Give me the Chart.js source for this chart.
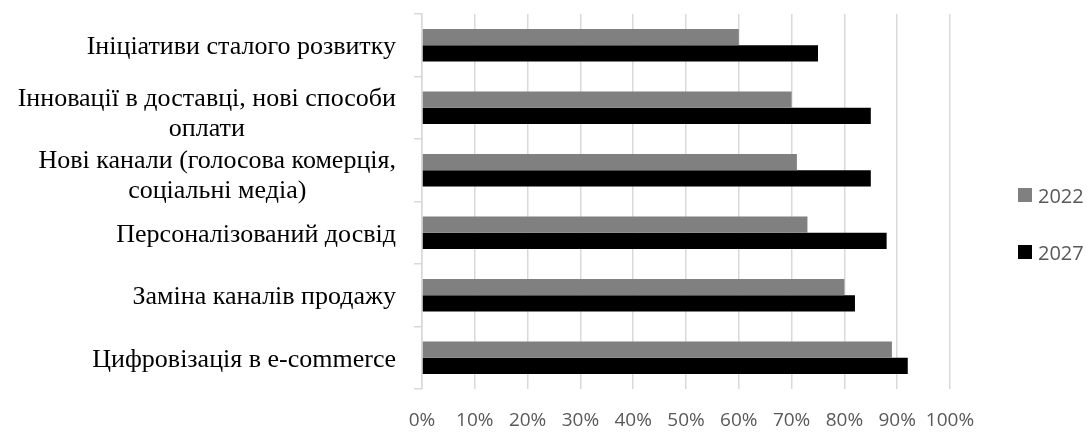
<!DOCTYPE html>
<html lang="uk">
<head>
<meta charset="utf-8">
<script src="https://cdn.jsdelivr.net/npm/chart.js@4"></script>
<style>
    body { margin: 0; background: #fff; }
    #wrap { position: relative; width: 1087px; height: 432px; }
    #legend { position: absolute; left: 1018px; top: 183px; font-family: "Open Sans", sans-serif; font-size: 20px; color: #595959; }
    #legend div { display: flex; align-items: center; height: 24px; margin-bottom: 33px; }
    #legend span.box { display: inline-block; width: 14px; height: 14px; margin-right: 6px; }
</style>
</head>
<body>
<div id="wrap">
    <canvas id="chart"></canvas>
    <div id="legend"></div>
</div>
<script>
const categories = [
    'Ініціативи сталого розвитку',
    ['Інновації в доставці, нові способи', 'оплати'],
    ['Нові канали (голосова комерція,', 'соціальні медіа)'],
    'Персоналізований досвід',
    'Заміна каналів продажу',
    'Цифровізація в e-commerce'
];
const values2022 = [60, 70, 71, 73, 80, 89];
const values2027 = [75, 85, 85, 88, 82, 92];
const seriesNames = ['2022', '2027'];
const seriesColors = ['#808080', '#000000'];

// category labels: right-aligned blocks, lines centred inside the block (like Excel)
const yLabels = {
    id: 'yLabels',
    afterDraw(chart) {
        const ctx = chart.ctx;
        const scale = chart.scales.y;
        const right = 396;
        const lineH = 30;
        ctx.save();
        ctx.font = '26px "Liberation Serif", "Times New Roman", serif';
        ctx.fillStyle = '#000';
        ctx.textAlign = 'center';
        ctx.textBaseline = 'middle';
        categories.forEach(function (lab, i) {
            const lines = Array.isArray(lab) ? lab : [lab];
            const w = Math.max.apply(null, lines.map(l => ctx.measureText(l).width));
            const cx = right - w / 2;
            const shift = lines.length > 1 ? 6 : 2;
            const y0 = scale.getPixelForTick(i) + shift - (lines.length - 1) * lineH / 2;
            lines.forEach(function (l, k) {
                ctx.fillText(l, cx, y0 + k * lineH);
            });
        });
        ctx.restore();
    }
};

const ctx = document.getElementById('chart').getContext('2d');
new Chart(ctx, {
    type: 'bar',
    data: {
        labels: categories,
        datasets: [
            { label: seriesNames[0], data: values2022, backgroundColor: seriesColors[0] },
            { label: seriesNames[1], data: values2027, backgroundColor: seriesColors[1] }
        ]
    },
    options: {
        indexAxis: 'y',
        responsive: true,
        maintainAspectRatio: false,
        animation: false,
        categoryPercentage: 0.52,
        barPercentage: 1,
        layout: { padding: { top: 14, right: 137, bottom: 0, left: 0 } },
        plugins: {
            legend: { display: false },
            tooltip: { enabled: false }
        },
        scales: {
            x: {
                min: 0,
                max: 100,
                ticks: {
                    stepSize: 10,
                    padding: 20,
                    maxRotation: 0,
                    minRotation: 0,
                    autoSkip: false,
                    color: '#595959',
                    font: { family: 'Open Sans', size: 19 },
                    callback: function (v) { return v + '%'; }
                },
                grid: { color: '#d9d9d9', lineWidth: 1.5, drawTicks: false },
                border: { display: false },
                afterFit: function (scale) { scale.height = 43; }
            },
            y: {
                ticks: { display: false },
                grid: { offset: true, drawOnChartArea: false, tickLength: 8, color: '#d9d9d9', lineWidth: 1.5 },
                border: { display: true, color: '#d9d9d9', width: 1.5 },
                afterFit: function (scale) { scale.width = 422; }
            }
        }
    },
    plugins: [yLabels]
});

// legend
const legendEl = document.getElementById('legend');
seriesNames.forEach(function (name, i) {
    const row = document.createElement('div');
    row.innerHTML = '<span class="box" style="background:' + seriesColors[i] + '"></span>' + name;
    legendEl.appendChild(row);
});
</script>
</body>
</html>
